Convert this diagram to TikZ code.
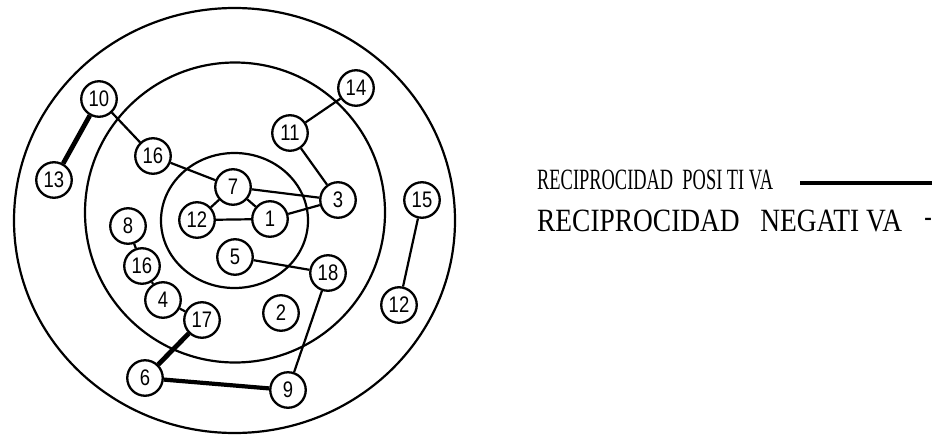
\documentclass[tikz,border=0pt]{standalone}
\usepackage{fontspec}
\setmainfont{Liberation Serif}
\newfontfamily\numfont{Liberation Sans}
\newcommand{\numlab}[1]{\scalebox{0.82}[1]{#1}}
\begin{document}
\begin{tikzpicture}[x=1pt,y=-1pt,
  person/.style={circle,draw,line width=2.3pt,minimum size=35.5pt,inner sep=0pt,
    font=\numfont\fontsize{22.5}{22.5}\selectfont},
  ring/.style={line width=2.2pt},
  negline/.style={line width=2.2pt},
  posline/.style={line width=4.8pt},
  legend/.style={inner sep=0pt,anchor=base west}]
\useasboundingbox (0,0) rectangle (932,434);
% rings
\draw[ring] (234.5,220.5) ellipse [x radius=220.5pt, y radius=212.5pt];
\draw[ring] (235,212.5) ellipse [x radius=150pt, y radius=150pt];
\draw[ring] (234.5,220.5) ellipse [x radius=73.5pt, y radius=67.5pt];
% persons
\node[person] (n10)  at (99,99)   {\numlab{10}};
\node[person] (n13)  at (54,180)  {\numlab{13}};
\node[person] (n16a) at (153,156) {\numlab{16}};
\node[person] (n7)   at (233,187) {\numlab{7}};
\node[person] (n12a) at (197,220) {\numlab{12}};
\node[person] (n1)   at (270,219) {\numlab{1}};
\node[person] (n3)   at (338,200) {\numlab{3}};
\node[person] (n11)  at (290,133) {\numlab{11}};
\node[person] (n14)  at (356,88)  {\numlab{14}};
\node[person] (n15)  at (422,200) {\numlab{15}};
\node[person] (n12b) at (399,305) {\numlab{12}};
\node[person] (n8)   at (128,226) {\numlab{8}};
\node[person] (n16b) at (142,266) {\numlab{16}};
\node[person] (n4)   at (163,300) {\numlab{4}};
\node[person] (n17)  at (202,320) {\numlab{17}};
\node[person] (n5)   at (235,257) {\numlab{5}};
\node[person] (n18)  at (328,273) {\numlab{18}};
\node[person] (n2)   at (281,313) {\numlab{2}};
\node[person] (n6)   at (145,378) {\numlab{6}};
\node[person] (n9)   at (288,390) {\numlab{9}};
% negative reciprocity
\draw[negline] (n10) -- (n16a);
\draw[negline] (n16a) -- (n7);
\draw[negline] (n7) -- (n3);
\draw[negline] (n7) -- (n12a);
\draw[negline] (n7) -- (n1);
\draw[negline] (n12a) -- (n1);
\draw[negline] (n1) -- (n3);
\draw[negline] (n11) -- (n14);
\draw[negline] (n11) -- (n3);
\draw[negline] (n15) -- (n12b);
\draw[negline] (n8) -- (n16b);
\draw[negline] (n16b) -- (n4);
\draw[negline] (n4) -- (n17);
\draw[negline] (n5) -- (n18);
\draw[negline] (n18) -- (n9);
% positive reciprocity
\draw[posline] (n10) -- (n13);
\draw[posline] (n17) -- (n6);
\draw[posline,line width=4.2pt] (n6) -- (n9);
% legend
\node[legend] (lp) at (537,189) {\resizebox{236pt}{19.5pt}{RECIPROCIDAD~~POSI TI VA}};
\coordinate (lpa) at (800,183);
\coordinate (lpb) at (932,183);
\draw[line width=4pt] (lpa) -- (lpb);
\node[legend] (ln) at (537,231.5) {\resizebox{365pt}{21.5pt}{RECIPROCIDAD~~~NEGATI VA}};
\node[inner sep=0pt,anchor=east] (ld) at (932,222) {\fontsize{30}{30}\selectfont\scalebox{0.75}[1]{-}};
\end{tikzpicture}
\end{document}
